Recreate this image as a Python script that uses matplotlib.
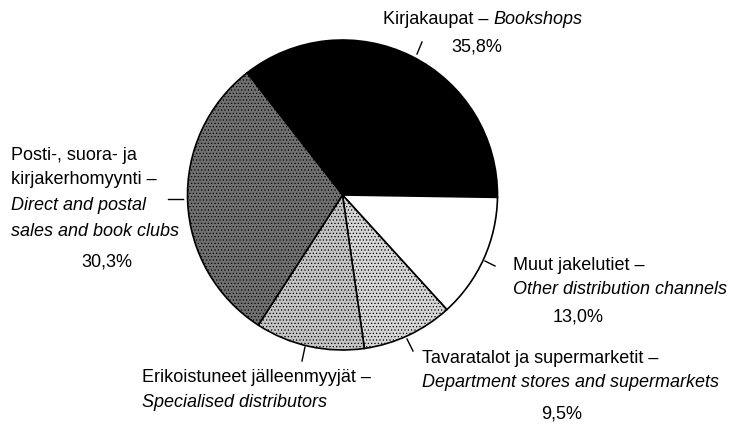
import matplotlib.pyplot as plt

# distribution channels, clockwise from the top-left
fi_labels = ["Kirjakaupat", "Muut jakelutiet", "Tavaratalot ja supermarketit",
             "Erikoistuneet jälleenmyyjät", "Posti-, suora- ja\nkirjakerhomyynti"]
en_labels = ["Bookshops", "Other distribution channels",
             "Department stores and supermarkets", "Specialised distributors",
             "Direct and postal\nsales and book clubs"]
shares = [35.8, 13.0, 9.5, 11.4, 30.3]

W, H = 734, 427
FONT = ["Liberation Sans", "DejaVu Sans"]
FS = 13


def pct(v):
    return f"{v:.1f}%".replace(".", ",")


def main():
    plt.rcParams["hatch.linewidth"] = 0.5
    fig = plt.figure(figsize=(W / 100, H / 100), dpi=100)
    ax = fig.add_axes([0, 0, 1, 1])

    cx, cy, r = 342.5, H - 196, 155
    colors = ["black", "white", "#d6d6d6", "#c4c4c4", "#707070"]
    hatches = [None, None, ".....", ".....", "....."]
    wedges, _ = ax.pie(shares, colors=colors, startangle=128, counterclock=False,
                       center=(cx, cy), radius=r, frame=True,
                       wedgeprops=dict(edgecolor="black", linewidth=1.2))
    for w, h in zip(wedges, hatches):
        if h:
            w.set_hatch(h)
    ax.set_xlim(0, W)
    ax.set_ylim(0, H)
    ax.axis("off")

    # leader ticks (pixel coords, y from top)
    ticks = [((417, 55), (422, 43)), ((485, 262), (495, 267)),
             ((407, 340), (413, 352)), ((305, 348), (302, 362)),
             ((168, 200), (183, 200))]
    for (x0, y0), (x1, y1) in ticks:
        ax.plot([x0, x1], [H - y0, H - y1], color="black", lw=1)

    def t(x, y, s, italic=False, ha="left"):
        return ax.text(x, H - y, s, fontsize=FS, family=FONT, ha=ha, va="center",
                       style="italic" if italic else "normal")

    def block(x, ys, fi, en):
        lines = [(s, False) for s in (fi + " –").split("\n")]
        lines += [(s, True) for s in en.split("\n")]
        for y, (s, it) in zip(ys, lines):
            t(x, y, s, italic=it)

    # Bookshops
    first = t(383, 19, fi_labels[0] + " – ")
    ax.annotate(en_labels[0], xy=(1, 0.5), xycoords=first, va="center",
                ha="left", fontsize=FS, family=FONT, style="italic")
    t(477, 47, pct(shares[0]), ha="center")

    # Direct and postal
    block(11, [155, 180, 206, 232], fi_labels[4], en_labels[4])
    t(107, 262, pct(shares[4]), ha="center")

    # Other
    block(513, [265, 290], fi_labels[1], en_labels[1])
    t(578, 317, pct(shares[1]), ha="center")

    # Department stores
    block(422, [359, 383], fi_labels[2], en_labels[2])
    t(562, 414, pct(shares[2]), ha="center")

    # Specialised
    block(142, [378, 403], fi_labels[3], en_labels[3])

    fig.savefig("out.png", dpi=100)


if __name__ == "__main__":
    main()
